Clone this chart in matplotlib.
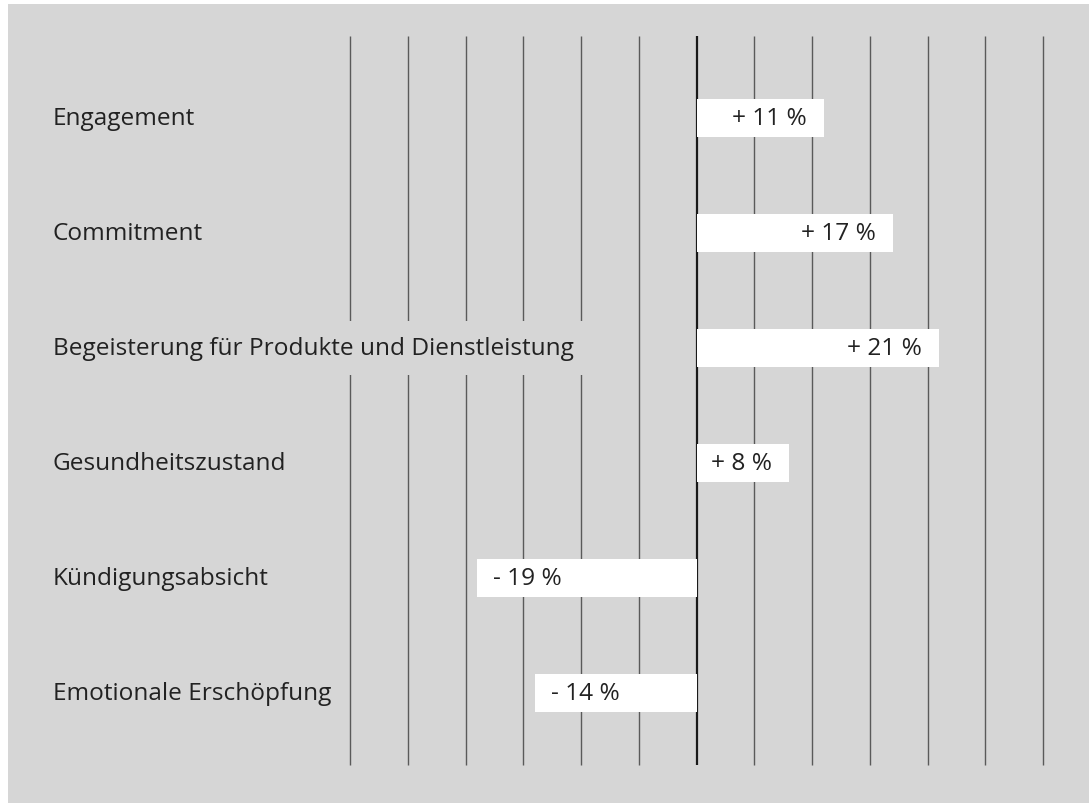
import matplotlib
matplotlib.use("Agg")
import matplotlib.pyplot as plt
from matplotlib.patches import Rectangle
import numpy as np

categories = [
    "Engagement",
    "Commitment",
    "Begeisterung für Produkte und Dienstleistung",
    "Gesundheitszustand",
    "Kündigungsabsicht",
    "Emotionale Erschöpfung",
]
values = [11, 17, 21, 8, -19, -14]
value_labels = ["+ 11 %", "+ 17 %", "+ 21 %", "+ 8 %", "- 19 %", "- 14 %"]
grid_ticks = list(range(-30, 31, 5))

W, H = 1089, 804
DPI = 100
BG = "#d6d6d6"
TXT = "#222222"
FONT = ["Open Sans", "DejaVu Sans"]
FS = 17.6

# pixel geometry
zero_px = 696.6
px_per_pct = 11.55
row0_px = 119.0
row_step = 115.0

fig = plt.figure(figsize=(W / DPI, H / DPI), dpi=DPI, facecolor="white")
# gray panel
fig.patches.append(Rectangle((8 / W, 0), 1 - 8 / W, 1 - 5 / H, transform=fig.transFigure,
                             facecolor=BG, edgecolor="none", zorder=-10))
ax = fig.add_axes([0, 0, 1, 1])
ax.set_zorder(5)
ax.set_facecolor("none")
ax.patch.set_alpha(0)
ax.set_xlim(-zero_px / px_per_pct, (W - zero_px) / px_per_pct)
ax.set_ylim((H - row0_px) / row_step, -row0_px / row_step)
ax.axis("off")

y = np.arange(len(categories))

# grid lines
y_top = (37 - row0_px) / row_step
y_bot = (766 - row0_px) / row_step
for t in grid_ticks:
    if t == 0:
        ax.vlines(t, y_top, y_bot, color="#1a1a1a", lw=1.6, zorder=1)
    else:
        ax.vlines(t, y_top, y_bot, color="#5a5a5a", lw=1.0, zorder=1)

# bars
ax.barh(y, values, height=38 / row_step, color="white", edgecolor="none", zorder=3)

# category labels
label_x = (53 - zero_px) / px_per_pct
texts = []
for yi, c in zip(y, categories):
    t = ax.text(label_x, yi, c, ha="left", va="center", fontsize=FS, color=TXT,
                family=FONT, zorder=5)
    texts.append(t)

# value labels
for yi, v, lab in zip(y, values, value_labels):
    if v >= 0:
        ax.annotate(lab, (v, yi), xytext=(-17, 0), textcoords="offset pixels",
                    ha="right", va="center", fontsize=FS, color=TXT, family=FONT, zorder=5)
    else:
        ax.annotate(lab, (v, yi), xytext=(16, 0), textcoords="offset pixels",
                    ha="left", va="center", fontsize=FS, color=TXT, family=FONT, zorder=5)

# gray masks behind category labels to break grid lines
fig.canvas.draw()
r = fig.canvas.get_renderer()
inv = ax.transData.inverted()
for t, yi in zip(texts, y):
    bb = t.get_window_extent(renderer=r)
    x0, _ = inv.transform((bb.x0 - 3, 0))
    x1, _ = inv.transform((bb.x1 + 12, 0))
    h = 54 / row_step
    ax.add_patch(Rectangle((x0, yi - h / 2), x1 - x0, h, facecolor=BG, edgecolor="none", zorder=2))

fig.savefig("out.png", dpi=DPI, facecolor="white")
